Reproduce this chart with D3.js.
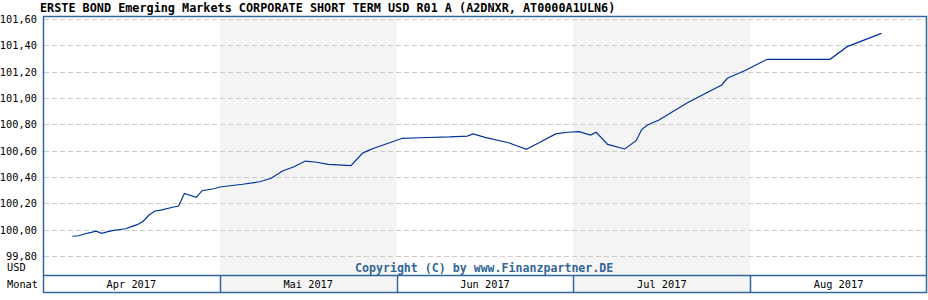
<!DOCTYPE html>
<html>
<head>
<meta charset="utf-8">
<script src="https://cdn.jsdelivr.net/npm/d3@7"></script>
<style>
  body { margin: 0; background: #fff; }
  text { font-family: "DejaVu Sans Mono", monospace; }
</style>
</head>
<body>
<svg width="928" height="300"></svg>
<script>
// Data
let dates = [
  "2017-04-06","2017-04-07","2017-04-08","2017-04-09","2017-04-10","2017-04-11","2017-04-12",
  "2017-04-13","2017-04-15","2017-04-16","2017-04-17","2017-04-18","2017-04-19","2017-04-20",
  "2017-04-21","2017-04-23","2017-04-24","2017-04-25","2017-04-27","2017-04-28","2017-04-30",
  "2017-05-01","2017-05-05","2017-05-08","2017-05-10","2017-05-12","2017-05-14","2017-05-16",
  "2017-05-18","2017-05-20","2017-05-24","2017-05-26","2017-05-27","2017-05-28",
  "2017-06-02","2017-06-05","2017-06-10","2017-06-13","2017-06-14","2017-06-16","2017-06-20",
  "2017-06-23","2017-06-25","2017-06-28","2017-06-30",
  "2017-07-02","2017-07-04","2017-07-05","2017-07-07","2017-07-10","2017-07-12","2017-07-13",
  "2017-07-14","2017-07-16","2017-07-21","2017-07-27","2017-07-28","2017-07-31",
  "2017-08-02","2017-08-04","2017-08-15","2017-08-18","2017-08-24"
];
let values = [
  99.95, 99.954, 99.967, 99.977, 99.988, 99.972, 99.985,
  99.995, 100.007, 100.023, 100.038, 100.064, 100.111, 100.142,
  100.149, 100.17, 100.18, 100.275, 100.246, 100.296, 100.311,
  100.324, 100.345, 100.364, 100.39, 100.446, 100.478, 100.521,
  100.512, 100.496, 100.486, 100.58, 100.60, 100.618,
  100.694, 100.698, 100.704, 100.711, 100.727, 100.701, 100.66,
  100.61, 100.656, 100.727, 100.74,
  100.744, 100.719, 100.74, 100.648, 100.613, 100.676, 100.762,
  100.795, 100.833, 100.964, 101.099, 101.15, 101.207,
  101.251, 101.294, 101.294, 101.39, 101.491
];
let yTicks = [99.8, 100.0, 100.2, 100.4, 100.6, 100.8, 101.0, 101.2, 101.4, 101.6];
let months = ["Apr 2017", "Mai 2017", "Jun 2017", "Jul 2017", "Aug 2017"];
let monthStarts = ["2017-04-01", "2017-05-01", "2017-06-01", "2017-07-01", "2017-08-01", "2017-09-01"];
let title = "ERSTE BOND Emerging Markets CORPORATE SHORT TERM USD R01 A (A2DNXR, AT0000A1ULN6)";

let svg = d3.select("svg"),
  left = 43, right = 927, frameTop = 16, plotBottom = 275, frameBottom = 292,
  frameColor = "#336699";

let parse = d3.timeParse("%Y-%m-%d");
let data = dates.map((d, i) => ({ date: parse(d), value: values[i] }));
let bounds = monthStarts.map(parse);

// Equal width per month
let x = d3.scaleTime()
  .domain(bounds)
  .range(bounds.map((d, i) => left + i * (right - left) / months.length));
let y = d3.scaleLinear()
  .domain([99.8, 101.6])
  .range([256, 19]);

// Shaded alternate months
svg.append("g")
  .selectAll("rect")
  .data([1, 3])
  .enter()
  .append("rect")
    .attr("x", i => x(bounds[i]))
    .attr("y", 19)
    .attr("width", i => x(bounds[i + 1]) - x(bounds[i]))
    .attr("height", frameBottom - 19)
    .attr("fill", "#f4f4f4");

// Grid lines
svg.append("g")
  .selectAll("line")
  .data(yTicks)
  .enter()
  .append("line")
    .attr("x1", left + 1)
    .attr("x2", right)
    .attr("y1", d => Math.round(y(d)) + 0.5)
    .attr("y2", d => Math.round(y(d)) + 0.5)
    .attr("stroke", "#cccccc")
    .attr("stroke-dasharray", "5,3");

// Y labels
svg.append("g")
  .selectAll("text")
  .data(yTicks)
  .enter()
  .append("text")
    .attr("x", 37)
    .attr("y", d => y(d) + 4)
    .attr("text-anchor", "end")
    .style("font-size", "10.3px")
    .style("fill", "#000")
    .text(d => d3.format(".2f")(d).replace(".", ","));

svg.append("text").attr("x", 7).attr("y", 271).style("font-size", "10.3px").text("USD");
svg.append("text").attr("x", 7).attr("y", 288).style("font-size", "10.3px").text("Monat");

// Copyright
svg.append("text")
  .attr("x", 355)
  .attr("y", 272)
  .style("font-size", "11.6px")
  .style("font-weight", "bold")
  .style("fill", frameColor)
  .text("Copyright (C) by www.Finanzpartner.DE");

// Price line
let line = d3.line()
  .x(d => x(d.date))
  .y(d => y(d.value));

svg.append("path")
  .datum(data)
  .attr("d", line)
  .attr("fill", "none")
  .attr("stroke", "#003399")
  .attr("stroke-width", 1.2);

// Month row
let mg = svg.append("g");
mg.selectAll("line")
  .data(bounds.slice(1, -1))
  .enter()
  .append("line")
    .attr("x1", d => Math.round(x(d)) + 0.5)
    .attr("x2", d => Math.round(x(d)) + 0.5)
    .attr("y1", plotBottom)
    .attr("y2", frameBottom)
    .attr("stroke", frameColor)
    .attr("stroke-width", 1.5);
mg.selectAll("text")
  .data(months)
  .enter()
  .append("text")
    .attr("x", (d, i) => (x(bounds[i]) + x(bounds[i + 1])) / 2)
    .attr("y", 288)
    .attr("text-anchor", "middle")
    .style("font-size", "10.3px")
    .text(d => d);

// Frame
svg.append("rect")
  .attr("x", left + 0.5)
  .attr("y", frameTop + 0.5)
  .attr("width", right - left - 1)
  .attr("height", frameBottom - frameTop)
  .attr("fill", "none")
  .attr("stroke", frameColor)
  .attr("stroke-width", 1.5);
svg.append("line")
  .attr("x1", left).attr("x2", right)
  .attr("y1", plotBottom + 0.5).attr("y2", plotBottom + 0.5)
  .attr("stroke", frameColor)
  .attr("stroke-width", 1.5);

// Title
svg.append("text")
  .attr("x", 40)
  .attr("y", 12)
  .style("font-size", "11.8px")
  .style("font-weight", "bold")
  .text(title);
</script>
</body>
</html>
